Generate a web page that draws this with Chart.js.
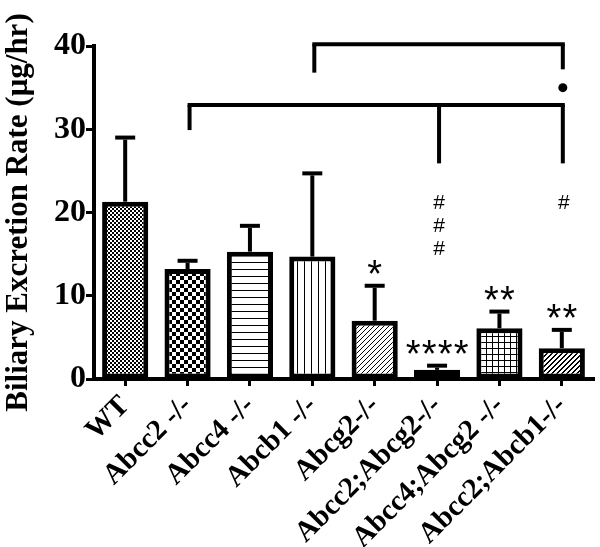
<!DOCTYPE html>
<html><head><meta charset="utf-8">
<script src="https://cdn.jsdelivr.net/npm/chart.js@4"></script>
<style>html,body{margin:0;padding:0;background:#fff;} #wrap{width:600px;height:547px;}</style>
</head><body><div id="wrap"><canvas id="c" width="600" height="547"></canvas></div>
<script>
const categories = ['WT','Abcc2 -/-','Abcc4 -/-','Abcb1 -/-','Abcg2-/-','Abcc2;Abcg2-/-','Abcc4;Abcg2 -/-','Abcc2;Abcb1-/-'];
const meanRate = [21.3, 13.2, 15.3, 14.7, 7.0, 1.1, 6.1, 3.7];
const semRate = [7.7, 1.0, 3.1, 10.0, 4.2, 0.5, 2.0, 2.2];
const yTicks = [0, 10, 20, 30, 40];
const starMarks = ['', '', '', '', '*', '****', '**', '**'];
const hashMarks = [0, 0, 0, 0, 0, 3, 0, 1];
const yTitle = 'Biliary Excretion Rate (μg/hr)';
// comparison brackets: category indices and levels (µg/hr)
const bracketTop = {from: 3, to: 7, level: 40.2, legs: [[3, 36.8], [7, 37.2]], dot: 35.0};
const bracketLow = {from: 1, to: 7, level: 32.9, legs: [[1, 29.9], [5, 25.9], [7, 25.9]]};

const cv = document.getElementById('c');
const mainCtx = cv.getContext('2d');
function makePattern(size, draw) {
  const c = document.createElement('canvas'); c.width = c.height = size;
  const g = c.getContext('2d');
  g.fillStyle = '#fff'; g.fillRect(0, 0, size, size);
  g.fillStyle = '#000'; g.strokeStyle = '#000';
  draw(g, size);
  return mainCtx.createPattern(c, 'repeat');
}
const patterns = [
  makePattern(4, (g) => { g.fillRect(0, 0, 2, 2); g.fillRect(2, 2, 2, 2); }),
  makePattern(8, (g) => { g.fillRect(0, 0, 4, 4); g.fillRect(4, 4, 4, 4); }),
  makePattern(7, (g) => { g.fillRect(0, 3, 7, 1); }),
  makePattern(7, (g) => { g.fillRect(3, 0, 1, 7); }),
  makePattern(5, (g, s) => { for (let i = 0; i < s; i++) g.fillRect(i, s - 1 - i, 1, 1); }),
  makePattern(5, (g, s) => { for (let i = 0; i < s; i++) { g.fillRect(i, i, 2, 1); } g.fillRect(0, 4, 1, 1); }),
  makePattern(6, (g) => { g.fillRect(0, 0, 6, 1); g.fillRect(0, 0, 1, 6); }),
  makePattern(5, (g, s) => { for (let i = 0; i < s; i++) { g.fillRect(i, s - 1 - i, 2, 1); } g.fillRect(0, 0, 1, 1); })
];

const annot = {
  id: 'annot',
  afterDatasetsDraw(chart) {
    const {ctx, scales: {x, y}} = chart;
    ctx.save();
    ctx.strokeStyle = '#000'; ctx.fillStyle = '#000';
    // error bars
    ctx.lineWidth = 4; ctx.lineCap = 'butt';
    meanRate.forEach((m, i) => {
      const px = x.getPixelForValue(i);
      const y0 = y.getPixelForValue(m), y1 = y.getPixelForValue(m + semRate[i]);
      ctx.beginPath(); ctx.moveTo(px, y0); ctx.lineTo(px, y1 + 2); ctx.stroke();
      ctx.beginPath(); ctx.moveTo(px - 10, y1); ctx.lineTo(px + 10, y1); ctx.stroke();
    });
    // brackets
    [bracketTop, bracketLow].forEach(b => {
      const yl = y.getPixelForValue(b.level);
      ctx.lineWidth = 4; ctx.lineCap = 'square';
      ctx.beginPath(); ctx.moveTo(x.getPixelForValue(b.from) + 2, yl); ctx.lineTo(x.getPixelForValue(b.to) + 1, yl); ctx.stroke();
      ctx.lineCap = 'butt';
      b.legs.forEach(([idx, lv], k) => {
        const px = x.getPixelForValue(idx) + (k === b.legs.length - 1 ? 1 : 2);
        ctx.beginPath(); ctx.moveTo(px, yl); ctx.lineTo(px, y.getPixelForValue(lv)); ctx.stroke();
      });
      if (b.dot !== undefined) {
        ctx.beginPath(); ctx.arc(x.getPixelForValue(b.to) + 1, y.getPixelForValue(b.dot), 4.5, 0, Math.PI * 2); ctx.fill();
      }
    });
    function glyphAt(ch, font, cx, cy) {
      ctx.font = font; ctx.textAlign = 'center'; ctx.textBaseline = 'alphabetic';
      const m = ctx.measureText(ch);
      const off = (m.actualBoundingBoxAscent - m.actualBoundingBoxDescent) / 2;
      ctx.fillText(ch, cx, cy + off);
    }
    // stars
    starMarks.forEach((s, i) => {
      if (!s) return;
      const px = x.getPixelForValue(i);
      const top = y.getPixelForValue(meanRate[i] + semRate[i]) - 19;
      const n = s.length, pitch = 16;
      for (let k = 0; k < n; k++) glyphAt('*', '38px "Liberation Sans"', px + (k - (n - 1) / 2) * pitch, top);
    });
    // hashes
    const legBottom = y.getPixelForValue(bracketLow.legs[1][1]);
    hashMarks.forEach((n, i) => {
      const px = x.getPixelForValue(i) + 2;
      for (let k = 0; k < n; k++) glyphAt('#', '21px "Liberation Sans"', px, legBottom + 39 + k * 23);
    });
    ctx.restore();
  }
};

new Chart(cv, {
  type: 'bar',
  data: {labels: categories, datasets: [{data: meanRate, backgroundColor: patterns, borderColor: '#000', borderWidth: 5, borderSkipped: false, barPercentage: 0.74, categoryPercentage: 1}]},
  options: {
    responsive: false, animation: false, devicePixelRatio: 1,
    layout: {padding: {top: 46, right: 7, left: 0, bottom: 0}},
    plugins: {legend: {display: false}, tooltip: {enabled: false}},
    scales: {
      x: {
        grid: {offset: false, drawOnChartArea: false, drawTicks: true, tickLength: 7, tickWidth: 3, tickColor: '#000', color: '#000', lineWidth: 3},
        border: {display: true, color: '#000', width: 4},
        ticks: {color: '#000', font: {family: 'Liberation Serif', size: 29, weight: 'bold'}, minRotation: 45, maxRotation: 45, autoSkip: false, padding: 3},
        afterFit(s) { s.height = 168; }
      },
      y: {
        min: 0, max: 40,
        afterBuildTicks(s) { s.ticks = yTicks.map(v => ({value: v})); },
        ticks: {color: '#000', font: {family: 'Liberation Serif', size: 32, weight: 'bold'}, padding: 0},
        grid: {drawOnChartArea: false, tickLength: 8, tickWidth: 3, tickColor: '#000'},
        border: {color: '#000', width: 4},
        title: {display: true, text: yTitle, color: '#000', font: {family: 'Liberation Serif', size: 31, weight: 'bold'}, padding: 0},
        afterFit(s) { s.width = 94; }
      }
    }
  },
  plugins: [annot]
});
</script></body></html>
